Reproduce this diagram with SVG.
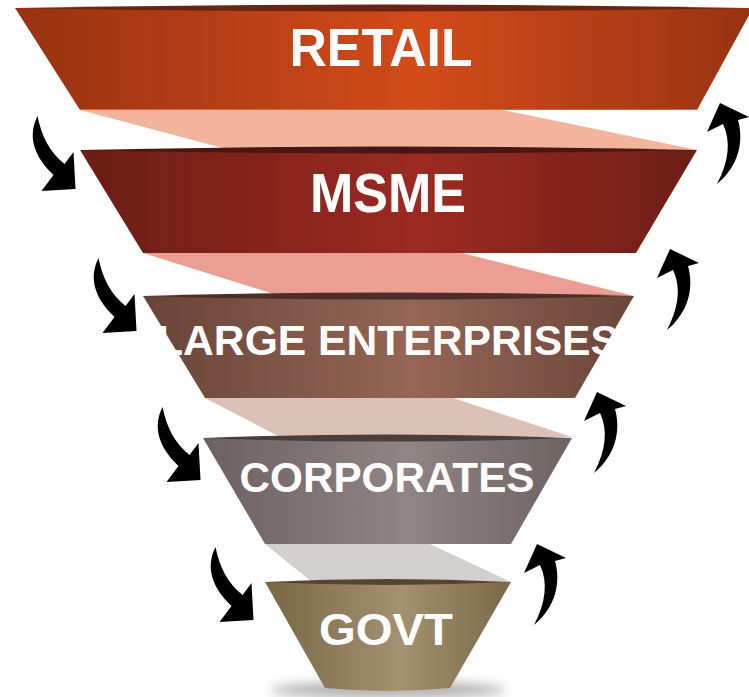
<svg xmlns="http://www.w3.org/2000/svg" width="749" height="697" viewBox="0 0 749 697">
  <defs>
    <linearGradient id="gRetail" x1="0" y1="0" x2="1" y2="0">
      <stop offset="0" stop-color="#973211"/>
      <stop offset="0.55" stop-color="#D34B1A"/>
      <stop offset="1" stop-color="#983312"/>
    </linearGradient>
    <linearGradient id="gMsme" x1="0" y1="0" x2="1" y2="0">
      <stop offset="0" stop-color="#6A1D16"/>
      <stop offset="0.55" stop-color="#9C2A21"/>
      <stop offset="1" stop-color="#6C1E17"/>
    </linearGradient>
    <linearGradient id="gLarge" x1="0" y1="0" x2="1" y2="0">
      <stop offset="0" stop-color="#684438"/>
      <stop offset="0.55" stop-color="#956656"/>
      <stop offset="1" stop-color="#6A463A"/>
    </linearGradient>
    <linearGradient id="gCorp" x1="0" y1="0" x2="1" y2="0">
      <stop offset="0" stop-color="#6C6060"/>
      <stop offset="0.55" stop-color="#8F8584"/>
      <stop offset="1" stop-color="#6E6262"/>
    </linearGradient>
    <linearGradient id="gGovt" x1="0" y1="0" x2="1" y2="0">
      <stop offset="0" stop-color="#786646"/>
      <stop offset="0.55" stop-color="#A39272"/>
      <stop offset="1" stop-color="#7A6848"/>
    </linearGradient>
    <filter id="blur" x="-50%" y="-200%" width="200%" height="500%">
      <feGaussianBlur stdDeviation="6"/>
    </filter>
    <path id="arrowDown" d="M0,0 C-9,18 -6,38 16,59 L4,75 L38,73 L36,36 L27,48 C12,36 4,20 0,0 Z"/>
    <path id="arrowUp" d="M0,0 L29,14 L18,17 C24,38 19,63 -3,81 C9,58 11,38 3,21 L-13,29 Z"/>
  </defs>
  <style>
    .label { font-family: "Liberation Sans", Arial, sans-serif; font-weight: bold; fill: #FFFFFF; text-anchor: middle; }
    .arrow { fill: #000000; }
  </style>
  <rect x="0" y="0" width="749" height="697" fill="#FFFFFF"/>

  <!-- inner funnel faces -->
  <g id="inner-faces">
    <polygon points="80,110 503,110 697,150 230,150" fill="#F3B49D"/>
    <polygon points="143,253 462,253 634,296 280,296" fill="#EB9E94"/>
    <polygon points="205,398 453,398 572,437 280,437" fill="#DBC1B6"/>
    <polygon points="265,544 430,544 511,582 312,582" fill="#D4D0CF"/>
  </g>

  <g id="retail">
    <polygon points="15,8 753,8 697,110 80,110" fill="url(#gRetail)"/>
    <path d="M15,8 Q384,1 753,8 Q384,15 15,8 Z" fill="#6A2410"/>
    <line x1="80" y1="109.5" x2="697" y2="109.5" stroke="#DB6534" stroke-width="1"/>
    <text class="label" x="381" y="66" font-size="54" textLength="183" lengthAdjust="spacingAndGlyphs">RETAIL</text>
  </g>

  <g id="msme">
    <polygon points="80,150 697,150 636,253 143,253" fill="url(#gMsme)"/>
    <path d="M80,150 Q388,143 697,150 Q388,157 80,150 Z" fill="#4B1612"/>
    <text class="label" x="388" y="212" font-size="55" textLength="156" lengthAdjust="spacingAndGlyphs">MSME</text>
  </g>

  <g id="large-enterprises">
    <polygon points="143,296 634,296 575,398 205,398" fill="url(#gLarge)"/>
    <path d="M143,296 Q388,289 634,296 Q388,303 143,296 Z" fill="#4A3028"/>
    <text class="label" x="388" y="355" font-size="43" textLength="462" lengthAdjust="spacingAndGlyphs">LARGE ENTERPRISES</text>
  </g>

  <g id="corporates">
    <polygon points="203,438 572,438 511,544 265,544" fill="url(#gCorp)"/>
    <path d="M203,438 Q388,431 572,438 Q388,445 203,438 Z" fill="#4A3E3E"/>
    <text class="label" x="387" y="492" font-size="42" textLength="295" lengthAdjust="spacingAndGlyphs">CORPORATES</text>
  </g>

  <g id="govt">
    <ellipse cx="388" cy="690" rx="118" ry="8" fill="#8A8A8A" opacity="0.7" filter="url(#blur)"/>
    <path d="M265,582 L511,582 L450,688 Q388,694 325,688 Z" fill="url(#gGovt)"/>
    <path d="M265,582 Q388,576 511,582 Q388,588 265,582 Z" fill="#55462F"/>
    <text class="label" x="386" y="645" font-size="45" textLength="134" lengthAdjust="spacingAndGlyphs">GOVT</text>
  </g>

  <g id="connectors">
    <use href="#arrowDown" class="arrow" transform="translate(37.5,116)"/>
    <use href="#arrowDown" class="arrow" transform="translate(98.5,258)"/>
    <use href="#arrowDown" class="arrow" transform="translate(162.5,407)"/>
    <use href="#arrowDown" class="arrow" transform="translate(215.5,547)"/>
    <use href="#arrowUp" class="arrow" transform="translate(720,103)"/>
    <use href="#arrowUp" class="arrow" transform="translate(670,249)"/>
    <use href="#arrowUp" class="arrow" transform="translate(597,392)"/>
    <use href="#arrowUp" class="arrow" transform="translate(537,544)"/>
  </g>
</svg>
